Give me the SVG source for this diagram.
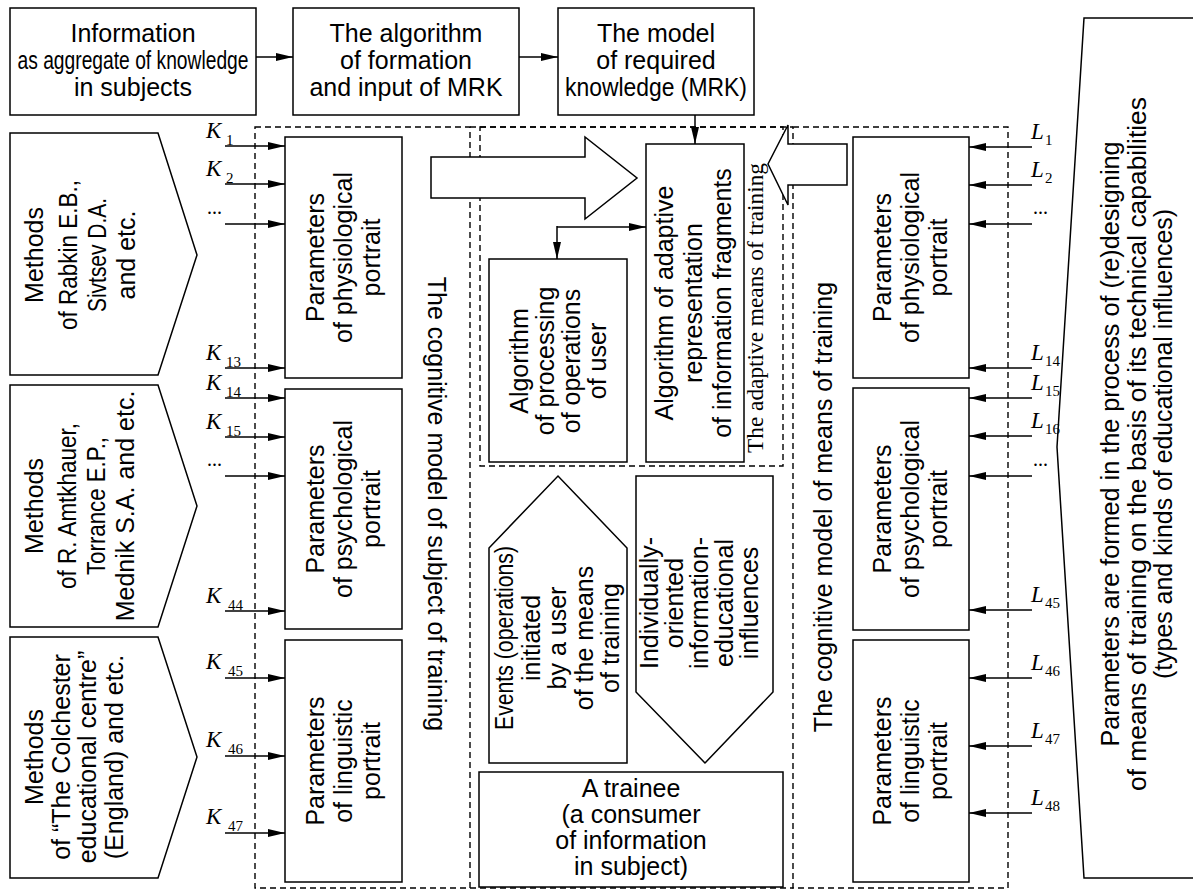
<svg xmlns="http://www.w3.org/2000/svg" width="1193" height="891" viewBox="0 0 1193 891">
<style>
.b{fill:#fff;stroke:#000;stroke-width:1.5}
.d{fill:none;stroke:#000;stroke-width:1.4;stroke-dasharray:6 4}
.t{font-family:"Liberation Sans",Arial,sans-serif;font-size:25px;text-anchor:middle;fill:#000}
.k{font-family:"Liberation Serif","Times New Roman",serif;font-style:italic;font-size:23px;fill:#000}
.s{font-style:normal;font-size:15px}
.dots{font-family:"Liberation Serif",serif;font-size:20px;fill:#000}
.a{stroke:#000;stroke-width:1.5;fill:none;marker-end:url(#ah)}
.sf{font-family:"Liberation Serif","Times New Roman",serif;font-size:23px;text-anchor:middle;fill:#000}
</style>
<defs>
<marker id="ah" viewBox="0 0 17 8" refX="17" refY="4" markerWidth="17" markerHeight="8" markerUnits="userSpaceOnUse" orient="auto"><path d="M0,0 L17,4 L0,8 z" fill="#000"/></marker>
</defs>
<rect width="1193" height="891" fill="#fff"/>

<g id="containers">
<rect class="d" x="255" y="127" width="215" height="761"/>
<rect class="d" x="793" y="127" width="215" height="761"/>
<rect class="d" x="480" y="127" width="303" height="339"/>
<line class="d" x1="470" y1="127" x2="793" y2="127"/>
<line class="d" x1="470" y1="888" x2="793" y2="888"/>
<text class="t" transform="translate(428,504) rotate(90)" x="0" y="0">The cognitive model of subject of training</text>
<text class="t" transform="translate(832,507) rotate(-90)" x="0" y="0">The cognitive model of means of training</text>
<text class="sf" transform="translate(763,308) rotate(-90)" x="0" y="0" textLength="290" lengthAdjust="spacingAndGlyphs">The adaptive means of training</text>
</g>

<g id="info">
<rect class="b" x="10" y="8" width="246" height="107"/>
<text class="t" x="133" y="42">Information</text>
<text class="t" x="133" y="69" textLength="231" lengthAdjust="spacingAndGlyphs">as aggregate of knowledge</text>
<text class="t" x="133" y="96">in subjects</text>
</g>
<g id="algo-formation">
<rect class="b" x="293" y="8" width="226" height="107"/>
<text class="t" x="406" y="42">The algorithm</text>
<text class="t" x="406" y="69">of formation</text>
<text class="t" x="406" y="96">and input of MRK</text>
</g>
<g id="mrk">
<rect class="b" x="558" y="8" width="196" height="107"/>
<text class="t" x="656" y="42">The model</text>
<text class="t" x="656" y="69">of required</text>
<text class="t" x="656" y="96" textLength="182" lengthAdjust="spacingAndGlyphs">knowledge (MRK)</text>
</g>

<g id="methods-1">
<polygon class="b" points="10,133 158,133 197,255 158,375 10,375"/>
<text class="t" transform="translate(0,255) rotate(-90)"><tspan x="0" y="43">Methods</tspan><tspan x="0" y="77" textLength="150" lengthAdjust="spacingAndGlyphs">of Rabkin E.B.,</tspan><tspan x="0" y="106" textLength="114" lengthAdjust="spacingAndGlyphs">Sivtsev D.A.</tspan><tspan x="0" y="135">and etc.</tspan></text>
</g>
<g id="methods-2">
<polygon class="b" points="10,385 158,385 197,506 158,627 10,627"/>
<text class="t" transform="translate(0,506) rotate(-90)"><tspan x="0" y="43">Methods</tspan><tspan x="0" y="76" textLength="166" lengthAdjust="spacingAndGlyphs">of R. Amtkhauer,</tspan><tspan x="0" y="105" textLength="138" lengthAdjust="spacingAndGlyphs">Torrance E.P.,</tspan><tspan x="0" y="134">Mednik S.A. and etc.</tspan></text>
</g>
<g id="methods-3">
<polygon class="b" points="10,637 158,637 197,757 158,878 10,878"/>
<text class="t" transform="translate(0,757) rotate(-90)"><tspan x="0" y="43">Methods</tspan><tspan x="0" y="70">of “The Colchester</tspan><tspan x="0" y="96">educational centre”</tspan><tspan x="0" y="123">(England) and etc.</tspan></text>
</g>

<g id="subj-physio">
<rect class="b" x="285" y="137" width="117" height="241"/>
<text class="t" transform="translate(343.5,257.5) rotate(-90)"><tspan x="0" y="-20">Parameters</tspan><tspan x="0" y="8">of physiological</tspan><tspan x="0" y="36">portrait</tspan></text>
</g>
<g id="subj-psycho">
<rect class="b" x="285" y="389" width="117" height="240"/>
<text class="t" transform="translate(343.5,509) rotate(-90)"><tspan x="0" y="-20">Parameters</tspan><tspan x="0" y="8">of psychological</tspan><tspan x="0" y="36">portrait</tspan></text>
</g>
<g id="subj-ling">
<rect class="b" x="285" y="640" width="117" height="242"/>
<text class="t" transform="translate(343.5,761) rotate(-90)"><tspan x="0" y="-20">Parameters</tspan><tspan x="0" y="8">of linguistic</tspan><tspan x="0" y="36">portrait</tspan></text>
</g>

<g id="means-physio">
<rect class="b" x="853" y="137" width="116" height="241"/>
<text class="t" transform="translate(911,257.5) rotate(-90)"><tspan x="0" y="-20">Parameters</tspan><tspan x="0" y="8">of physiological</tspan><tspan x="0" y="36">portrait</tspan></text>
</g>
<g id="means-psycho">
<rect class="b" x="853" y="388" width="116" height="242"/>
<text class="t" transform="translate(911,509) rotate(-90)"><tspan x="0" y="-20">Parameters</tspan><tspan x="0" y="8">of psychological</tspan><tspan x="0" y="36">portrait</tspan></text>
</g>
<g id="means-ling">
<rect class="b" x="853" y="640" width="116" height="242"/>
<text class="t" transform="translate(911,761) rotate(-90)"><tspan x="0" y="-20">Parameters</tspan><tspan x="0" y="8">of linguistic</tspan><tspan x="0" y="36">portrait</tspan></text>
</g>

<g id="block-arrow-right">
<polygon class="b" points="431,157 585,157 585,137 637,178 585,219 585,198 431,198"/>
</g>
<g id="block-arrow-left">
<polygon class="b" points="847,144 788,144 788,125 768,164 788,205 788,185 847,185"/>
</g>

<g id="algo-adaptive">
<rect class="b" x="646" y="144" width="98" height="318"/>
<text class="t" transform="translate(695,303) rotate(-90)"><tspan x="0" y="-22">Algorithm of adaptive</tspan><tspan x="0" y="7">representation</tspan><tspan x="0" y="36">of information fragments</tspan></text>
</g>
<g id="algo-processing">
<rect class="b" x="489" y="259" width="138" height="203"/>
<text class="t" transform="translate(558,361) rotate(-90)"><tspan x="0" y="-30">Algorithm</tspan><tspan x="0" y="-4">of processing</tspan><tspan x="0" y="22">of operations</tspan><tspan x="0" y="48">of user</tspan></text>
</g>

<g id="events">
<polygon class="b" points="489,548 558,476 627,548 627,763 489,763"/>
<text class="t" transform="translate(0,638) rotate(-90)"><tspan x="0" y="513" textLength="184" lengthAdjust="spacingAndGlyphs">Events (operations)</tspan><tspan x="0" y="540">initiated</tspan><tspan x="0" y="566">by a user</tspan><tspan x="0" y="593">of the means</tspan><tspan x="0" y="619">of training</tspan></text>
</g>
<g id="influences">
<polygon class="b" points="636,476 773,476 773,692 705,763 636,692"/>
<text class="t" transform="translate(0,603) rotate(-90)"><tspan x="0" y="658">Individually-</tspan><tspan x="0" y="683">oriented</tspan><tspan x="0" y="708">information-</tspan><tspan x="0" y="733">educational</tspan><tspan x="0" y="758">influences</tspan></text>
</g>
<g id="trainee">
<rect class="b" x="479" y="772" width="304" height="115"/>
<text class="t" x="631" y="797">A trainee</text>
<text class="t" x="631" y="823">(a consumer</text>
<text class="t" x="631" y="849">of information</text>
<text class="t" x="631" y="875">in subject)</text>
</g>

<g id="redesign">
<polygon class="b" points="1084,18 1196,18 1196,878 1084,878 1057,447"/>
<text class="t" transform="translate(0,444) rotate(-90)" font-size="24"><tspan x="0" y="1119" textLength="605" lengthAdjust="spacingAndGlyphs">Parameters are formed in the process of (re)designing</tspan><tspan x="0" y="1146" textLength="694" lengthAdjust="spacingAndGlyphs">of means of training on the basis of its technical capabilities</tspan><tspan x="0" y="1172" textLength="470" lengthAdjust="spacingAndGlyphs">(types and kinds of educational influences)</tspan></text>
</g>

<g id="labels">
<text class="k" x="206" y="138">K<tspan class="s" x="226" y="145">1</tspan></text>
<text class="k" x="206" y="176">K<tspan class="s" x="226" y="183">2</tspan></text>
<text class="dots" x="207" y="214">...</text>
<text class="k" x="206" y="360">K<tspan class="s" x="226" y="367">13</tspan></text>
<text class="k" x="206" y="390">K<tspan class="s" x="226" y="397">14</tspan></text>
<text class="k" x="206" y="429">K<tspan class="s" x="226" y="436">15</tspan></text>
<text class="dots" x="207" y="466">...</text>
<text class="k" x="206" y="603">K<tspan class="s" x="228" y="610">44</tspan></text>
<text class="k" x="206" y="669">K<tspan class="s" x="228" y="676">45</tspan></text>
<text class="k" x="206" y="747">K<tspan class="s" x="228" y="754">46</tspan></text>
<text class="k" x="206" y="824">K<tspan class="s" x="228" y="831">47</tspan></text>

<text class="k" x="1031" y="139">L<tspan class="s" x="1045" y="145">1</tspan></text>
<text class="k" x="1031" y="177">L<tspan class="s" x="1045" y="183">2</tspan></text>
<text class="dots" x="1033" y="214">...</text>
<text class="k" x="1031" y="360">L<tspan class="s" x="1045" y="366">14</tspan></text>
<text class="k" x="1031" y="390">L<tspan class="s" x="1045" y="396">15</tspan></text>
<text class="k" x="1031" y="428">L<tspan class="s" x="1045" y="434">16</tspan></text>
<text class="dots" x="1033" y="466">...</text>
<text class="k" x="1031" y="602">L<tspan class="s" x="1045" y="608">45</tspan></text>
<text class="k" x="1031" y="670">L<tspan class="s" x="1045" y="676">46</tspan></text>
<text class="k" x="1031" y="738">L<tspan class="s" x="1045" y="744">47</tspan></text>
<text class="k" x="1031" y="805">L<tspan class="s" x="1045" y="811">48</tspan></text>
</g>

<g id="connectors">
<line class="a" x1="256" y1="57" x2="293" y2="57"/>
<line class="a" x1="519" y1="57" x2="558" y2="57"/>
<line class="a" x1="695" y1="115" x2="695" y2="144"/>
<line class="a" x1="557" y1="227" x2="646" y2="227"/>
<line class="a" x1="557" y1="226" x2="557" y2="259"/>

<line class="a" x1="225" y1="146" x2="285" y2="146"/>
<line class="a" x1="225" y1="184" x2="285" y2="184"/>
<line class="a" x1="225" y1="224" x2="285" y2="224"/>
<line class="a" x1="225" y1="368" x2="285" y2="368"/>
<line class="a" x1="225" y1="398" x2="285" y2="398"/>
<line class="a" x1="225" y1="437" x2="285" y2="437"/>
<line class="a" x1="225" y1="476" x2="285" y2="476"/>
<line class="a" x1="225" y1="611" x2="285" y2="611"/>
<line class="a" x1="225" y1="678" x2="285" y2="678"/>
<line class="a" x1="225" y1="756" x2="285" y2="756"/>
<line class="a" x1="225" y1="833" x2="285" y2="833"/>

<line class="a" x1="1032" y1="147" x2="969" y2="147"/>
<line class="a" x1="1032" y1="185" x2="969" y2="185"/>
<line class="a" x1="1032" y1="224" x2="969" y2="224"/>
<line class="a" x1="1032" y1="368" x2="969" y2="368"/>
<line class="a" x1="1032" y1="398" x2="969" y2="398"/>
<line class="a" x1="1032" y1="436" x2="969" y2="436"/>
<line class="a" x1="1032" y1="476" x2="969" y2="476"/>
<line class="a" x1="1032" y1="610" x2="969" y2="610"/>
<line class="a" x1="1032" y1="678" x2="969" y2="678"/>
<line class="a" x1="1032" y1="746" x2="969" y2="746"/>
<line class="a" x1="1032" y1="813" x2="969" y2="813"/>
</g>
</svg>
